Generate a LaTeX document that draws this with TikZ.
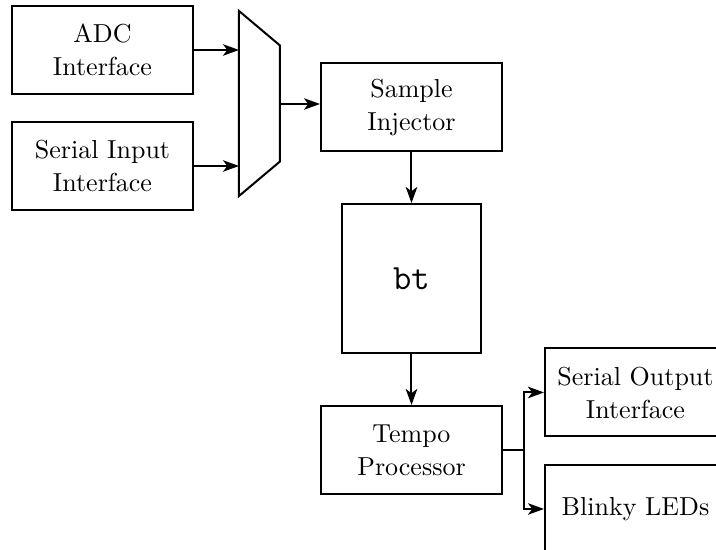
\documentclass[tikz,border=0pt]{standalone}
\usepackage{fontspec}
\usetikzlibrary{arrows.meta,calc}
\begin{document}
\begin{tikzpicture}[x=0.4pt,y=-0.4pt,
  blk/.style={draw,thick,rectangle,minimum width=72.4pt,minimum height=35.2pt,align=center,inner sep=0pt,
    font=\fontsize{10.4}{13.2}\selectfont},
  arr/.style={thick,-{Stealth[length=6.4pt,width=4.6pt,inset=1.7pt]}},
  wire/.style={thick}]
  \clip (0,0) rectangle (716,550);
  % input interfaces
  \node[blk] (adc) at (102.5,50) {ADC\\Interface};
  \node[blk] (sin) at (102.5,166) {Serial Input\\Interface};
  % multiplexer outline
  \coordinate (mtl) at (239,11);
  \coordinate (mtr) at (280,45.5);
  \coordinate (mbr) at (280,161.5);
  \coordinate (mbl) at (239,196);
  \coordinate (mout) at (280,104);
  \draw[wire,line join=miter] (mtl) -- (mtr) -- (mbr) -- (mbl) -- cycle;
  % processing chain
  \node[blk] (inj) at (411.5,107.5) {Sample\\Injector};
  \node[blk,minimum width=55.6pt,minimum height=59.6pt,font=\fontsize{14.2}{17}\selectfont\ttfamily] (bt) at (411.5,278.5) {bt};
  \node[blk] (tempo) at (411.5,450) {Tempo\\Processor};
  % outputs
  \node[blk] (sout) at (635.5,392.5) {Serial Output\\Interface};
  \node[blk] (led) at (635.5,509) {Blinky LEDs};
  % connections
  \draw[arr] (adc.east) -- (adc.east -| mtl);
  \draw[arr] (sin.east) -- (sin.east -| mtl);
  \draw[arr] (mout) -- (mout -| inj.west);
  \draw[arr] (inj.south) -- (bt.north);
  \draw[arr] (bt.south) -- (tempo.north);
  \coordinate (split) at ($(tempo.east)+(21,0)$);
  \draw[wire] (tempo.east) -- (split);
  \draw[arr] (split) |- (sout.west);
  \draw[arr] (split) |- (led.west);
\end{tikzpicture}
\end{document}
